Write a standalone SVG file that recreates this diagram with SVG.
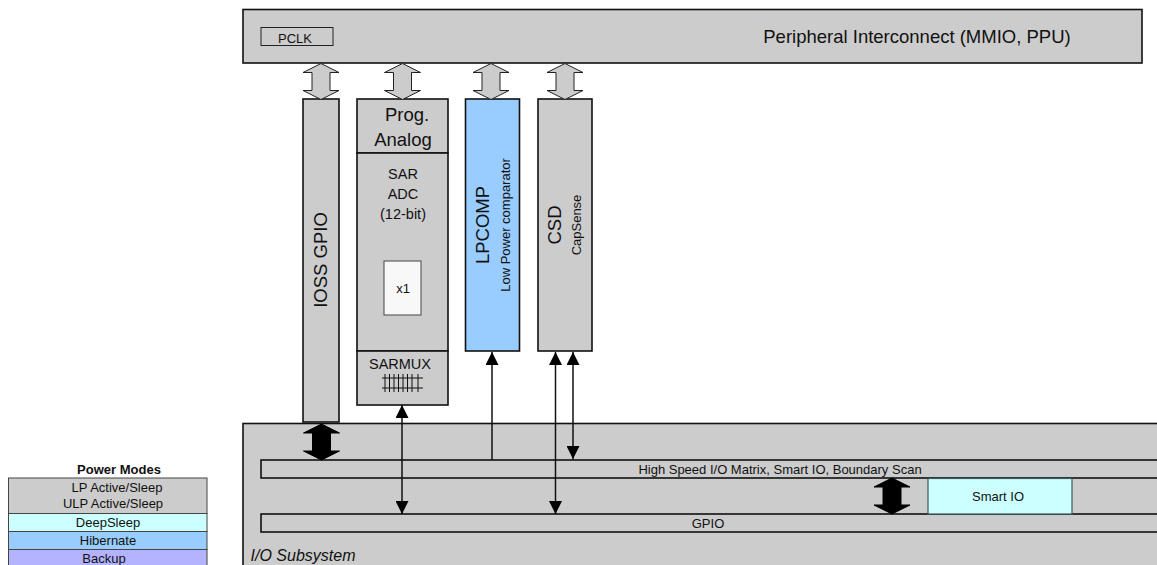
<svg xmlns="http://www.w3.org/2000/svg" width="1157" height="565" viewBox="0 0 1157 565">
<defs>
<style>
text{font-family:"Liberation Sans",Arial,sans-serif;fill:#111;text-anchor:middle}
.b{fill:#ccc;stroke:#111;stroke-width:1.6}
.bl{fill:#9cf;stroke:#111;stroke-width:1.6}
.cy{fill:#cff;stroke:#3c5a5a;stroke-width:1.2}
.g{fill:#ccc;stroke:#111;stroke-width:1}
.ln{stroke:#111;stroke-width:1.5;fill:none}
.fat{fill:#ccc;stroke:#222;stroke-width:1}
.blk{fill:#000;stroke:#000;stroke-width:1}
.leg{stroke:#444;stroke-width:1}
.thin{stroke:#111;stroke-width:1.5;fill:none}
</style>
<marker id="ah" viewBox="0 0 13 13" refX="13" refY="6.5" markerWidth="13" markerHeight="13" markerUnits="userSpaceOnUse" orient="auto-start-reverse"><path d="M0 0L13 6.5L0 13Z" fill="#000"/></marker>
<path id="fa" d="M0 0L18 9H9V27H18L0 36L-18 27H-9V9H-18Z"/>
</defs>
<g id="peripheral-interconnect"><rect class="b" x="243" y="9.500" width="899" height="53.500"/><text x="917" y="43" font-size="18.500">Peripheral Interconnect (MMIO, PPU)</text></g>
<g id="pclk"><rect x="261" y="27.500" width="72" height="18" fill="#ccc" stroke="#222" stroke-width="1"/><text x="295" y="42.500" font-size="13">PCLK</text></g>
<g id="ioss-gpio"><rect class="b" x="303" y="99" width="36" height="323"/><text transform="translate(327 260) rotate(-90)" font-size="18.500">IOSS GPIO</text></g>
<g id="prog-analog"><rect class="b" x="357" y="99" width="91" height="54"/><text x="407" y="121" font-size="18.500">Prog.</text><text x="403" y="146" font-size="18.500">Analog</text></g>
<g id="sar-adc"><rect class="b" x="357" y="153" width="91" height="198"/><text x="403" y="179" font-size="14.500">SAR</text><text x="403" y="199" font-size="14.500">ADC</text><text x="403" y="219" font-size="14.500">(12-bit)</text></g>
<g id="x1"><rect x="384" y="261" width="37" height="54" fill="#f8f8f8" stroke="#444" stroke-width="1"/><text x="403" y="293" font-size="13">x1</text></g>
<g id="sarmux"><rect class="b" x="357" y="351" width="91" height="54"/><text x="400" y="369" font-size="14.500">SARMUX</text>
<path class="ln" stroke-width="1" style="stroke-width:1" d="M382 378H423M382 388H423M385 374V392M389.500 374V392M394 374V392M398.500 374V392M403 374V392M407.500 374V392M412 374V392M418 374V392"/></g>
<g id="lpcomp"><rect class="bl" x="465.500" y="99" width="54" height="252"/><text transform="translate(489 225) rotate(-90)" font-size="18.500">LPCOMP</text><text transform="translate(510 225) rotate(-90)" font-size="13">Low Power comparator</text></g>
<g id="csd"><rect class="b" x="538" y="99" width="54" height="252"/><text transform="translate(561 225) rotate(-90)" font-size="18.500">CSD</text><text transform="translate(581 225) rotate(-90)" font-size="13">CapSense</text></g>
<g id="io-subsystem"><rect class="b" x="243" y="423.500" width="930" height="150"/><text x="303" y="561" font-size="16" font-style="italic">I/O Subsystem</text></g>
<g id="hs-matrix"><rect class="b" x="261" y="460" width="910" height="18"/><text x="780" y="474" font-size="13">High Speed I/O Matrix, Smart IO, Boundary Scan</text></g>
<g id="gpio"><rect class="b" x="261" y="514" width="910" height="18"/><text x="708" y="528" font-size="13">GPIO</text></g>
<g id="smart-io"><rect class="cy" x="928" y="478.500" width="144" height="35.500"/><text x="998" y="501" font-size="13">Smart IO</text></g>
<g id="power-modes"><text x="119" y="474" font-size="13" font-weight="bold">Power Modes</text>
<rect class="leg" x="8.500" y="478" width="198.500" height="35.500" fill="#ccc"/><text x="117" y="492" font-size="13">LP Active/Sleep</text><text x="113" y="508" font-size="13">ULP Active/Sleep</text>
<rect class="leg" x="8.500" y="513.500" width="198.500" height="18" fill="#cff"/><text x="108" y="527" font-size="13">DeepSleep</text>
<rect class="leg" x="8.500" y="531.500" width="198.500" height="18" fill="#9cf"/><text x="108" y="545" font-size="13">Hibernate</text>
<rect class="leg" x="8.500" y="549.500" width="198.500" height="20" fill="#b3b3ff"/><text x="104" y="563" font-size="13">Backup</text></g>
<g id="connectors">
<use href="#fa" class="fat" x="321" y="63.500"/><use href="#fa" class="fat" x="402.500" y="63.500"/><use href="#fa" class="fat" x="491" y="63.500"/><use href="#fa" class="fat" x="565" y="63.500"/>
<use href="#fa" class="blk" x="321.500" y="424"/><use href="#fa" class="blk" x="892" y="478"/>
<line class="thin" x1="402" y1="405" x2="402" y2="514" marker-start="url(#ah)" marker-end="url(#ah)"/>
<line class="thin" x1="492" y1="460" x2="492" y2="352" marker-end="url(#ah)"/>
<line class="thin" x1="555.500" y1="352" x2="555.500" y2="514" marker-start="url(#ah)" marker-end="url(#ah)"/>
<line class="thin" x1="573" y1="352" x2="573" y2="459" marker-start="url(#ah)" marker-end="url(#ah)"/>
</g>
</svg>
